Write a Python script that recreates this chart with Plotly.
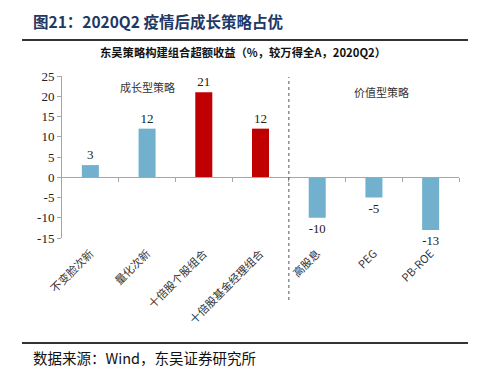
import plotly.graph_objects as go

categories = ["不变脸次新", "量化次新", "十倍股个股组合", "十倍股基金经理组合", "高股息", "PEG", "PB-ROE"]
values = [3, 12, 21, 12, -10, -5, -13]
value_labels = ["3", "12", "21", "12", "-10", "-5", "-13"]
bar_colors = ["#72B1CD", "#72B1CD", "#C00000", "#C00000", "#72B1CD", "#72B1CD", "#72B1CD"]
n_growth = 4
y_ticks = [25, 20, 15, 10, 5, 0, -5, -10, -15]
y_tick_labels = ["25", "20", "15", "10", "5", "0", "-5", "-10", "-15"]

SERIF = "Liberation Serif, Times New Roman, Noto Sans CJK SC"
CJK = "Noto Sans CJK SC, Liberation Serif"

W, H = 483, 379
ML, MR, MT, MB = 62, 24, 76, 141
PW, PH = W - ML - MR, H - MT - MB


def px_x(x):
    return (x - ML) / PW


def px_y(y):
    return (H - MB - y) / PH


fig = go.Figure()
fig.add_trace(go.Bar(
    x=categories, y=values, marker=dict(color=bar_colors, line=dict(width=0)),
    width=0.3, text=value_labels, textposition="outside", cliponaxis=False,
    textfont=dict(family=SERIF, size=13, color="#222"),
    showlegend=False,
))
fig.add_trace(go.Scatter(x=[0], y=[0], xaxis="x2", mode="markers",
                         marker=dict(opacity=0), showlegend=False, hoverinfo="skip"))

n = len(categories)
fig.update_layout(
    width=W, height=H,
    margin=dict(l=ML, r=MR, t=MT, b=MB, autoexpand=False),
    paper_bgcolor="white", plot_bgcolor="white",
    xaxis=dict(categoryorder="array", categoryarray=categories, range=[-0.5, n - 0.5],
               showline=False, ticks="", tickangle=-45, automargin=False,
               ticklabelstandoff=6,
               tickfont=dict(family=CJK, size=11, color="#333"), showgrid=False),
    xaxis2=dict(overlaying="x", anchor="free", position=15 / 40, type="linear",
                range=[-0.5, n - 0.5], showline=True, linecolor="#A6A6A6", linewidth=1,
                ticks="outside", ticklen=4, tickcolor="#A6A6A6",
                tickvals=[i + 0.5 for i in range(n)], showticklabels=False, showgrid=False,
                zeroline=False),
    yaxis=dict(range=[-15, 25], tickvals=y_ticks, ticktext=y_tick_labels,
               showline=True, linecolor="#A6A6A6", linewidth=1, ticks="outside",
               ticklen=4, tickcolor="#A6A6A6", showgrid=False, zeroline=False,
               automargin=False,
               tickfont=dict(family=SERIF, size=13, color="#222")),
)

fig.add_shape(type="line", xref="x", yref="paper", x0=n_growth - 0.5, x1=n_growth - 0.5,
              y0=px_y(300), y1=px_y(77), line=dict(color="#555", width=1, dash="dot"))

fig.add_annotation(x=1, y=22.3, xref="x", yref="y", text="成长型策略", showarrow=False,
                   font=dict(family=CJK, size=11, color="#333"))
fig.add_annotation(x=5.14, y=21.0, xref="x", yref="y", text="价值型策略", showarrow=False,
                   font=dict(family=CJK, size=11, color="#333"))

fig.add_annotation(x=px_x(31), y=px_y(21), xref="paper", yref="paper", xanchor="left",
                   yanchor="middle", showarrow=False, text="<b>图21：2020Q2 疫情后成长策略占优</b>",
                   font=dict(family=CJK, size=15.5, color="#1F3864"))
fig.add_annotation(x=px_x(243), y=px_y(52), xref="paper", yref="paper", xanchor="center",
                   yanchor="middle", showarrow=False,
                   text="<b>东吴策略构建组合超额收益（%，较万得全A，2020Q2）</b>",
                   font=dict(family=CJK, size=11.3, color="#111"))
fig.add_annotation(x=px_x(31), y=px_y(357), xref="paper", yref="paper", xanchor="left",
                   yanchor="middle", showarrow=False, text="数据来源：Wind，东吴证券研究所",
                   font=dict(family=CJK, size=14.5, color="#111"))

for yy in (40, 343):
    fig.add_shape(type="line", xref="paper", yref="paper",
                  x0=px_x(22), x1=px_x(468), y0=px_y(yy), y1=px_y(yy),
                  line=dict(color="#333", width=2))

fig.write_html("out.html", config={"displayModeBar": False},
               post_script="document.body.style.margin='0';")
